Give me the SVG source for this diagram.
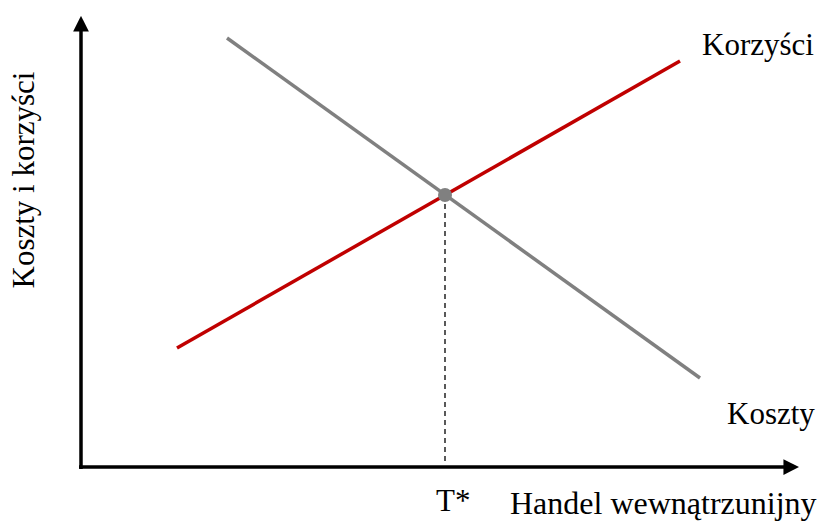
<svg xmlns="http://www.w3.org/2000/svg" width="818" height="521" viewBox="0 0 818 521">
<style>
text{font-family:"Liberation Serif","Times New Roman",serif;font-size:31px;fill:#000}
.axis{stroke:#000;stroke-width:3.5;fill:none}
</style>
<defs>
<marker id="arr" viewBox="0 0 10 10" refX="1" refY="5" markerWidth="4.5" markerHeight="4.5" orient="auto" markerUnits="strokeWidth">
<path d="M0,0 L10,5 L0,10 z" fill="#000"/>
</marker>
</defs>
<rect width="818" height="521" fill="#fff"/>
<g id="connectors">
<line class="axis" x1="81" y1="469" x2="81" y2="30" marker-end="url(#arr)"/>
<line class="axis" x1="79" y1="467" x2="785" y2="467" marker-end="url(#arr)"/>
<line x1="445" y1="195" x2="445" y2="465" stroke="#000" stroke-width="1.3" stroke-dasharray="5,4"/>
<line id="koszty-line" x1="227" y1="38" x2="700" y2="378" stroke="#808080" stroke-width="3.5"/>
<line id="korzysci-line" x1="177" y1="348" x2="680" y2="61" stroke="#c00000" stroke-width="3.5"/>
</g>
<g id="equilibrium"><circle cx="445" cy="195" r="7" fill="#808080"/></g>
<g id="labels">
<text x="702" y="55">Korzyści</text>
<text x="727" y="424">Koszty</text>
<text x="436" y="511">T*</text>
<text x="510" y="514" style="font-size:32px">Handel wewnątrzunijny</text>
<text transform="translate(34,180) rotate(-90)" text-anchor="middle">Koszty i korzyści</text>
</g>
</svg>
